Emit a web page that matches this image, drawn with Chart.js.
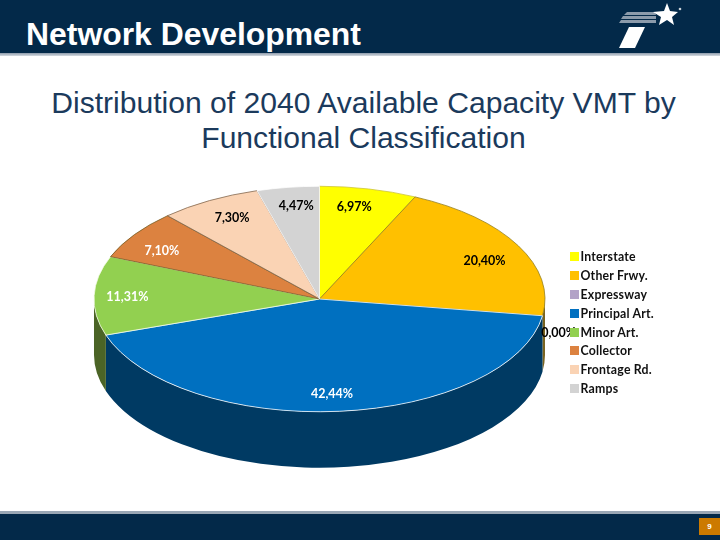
<!DOCTYPE html>
<html>
<head>
<meta charset="utf-8">
<script src="https://cdn.jsdelivr.net/npm/chart.js@4"></script>
<style>
html, body { margin: 0; padding: 0; background: #fff; }
#slide { position: relative; width: 720px; height: 540px; overflow: hidden; font-family: "Liberation Sans", Arial, sans-serif; }
#top { position: absolute; left: 0; top: 0; width: 720px; height: 53px; background: #032949; }
#topline { position: absolute; left: 0; top: 53px; width: 720px; height: 3px; background: linear-gradient(#8d9bab, #d5dae0); }
#head { position: absolute; left: 26px; top: 16px; font-size: 31.9px; line-height: 36px; font-weight: bold; color: #fff; white-space: nowrap; }
#title { position: absolute; left: 0; top: 85px; width: 727px; text-align: center; font-size: 30.1px; line-height: 35px; color: #1b3a5c; white-space: nowrap; }
#logo { position: absolute; left: 600px; top: 0; }
#bottom { position: absolute; left: 0; top: 514px; width: 720px; height: 26px; background: #032949; }
#bottomline { position: absolute; left: 0; top: 511px; width: 720px; height: 3px; background: #9aa7b5; }
#page { position: absolute; left: 699px; top: 518px; width: 21px; height: 17px; background: #cc7a00; color: #fff; font-size: 8px; font-weight: bold; line-height: 17px; text-align: center; }
canvas { position: absolute; left: 0; top: 0; }
#legend { position: absolute; left: 570px; top: 248px; font: 700 12.3px Lato; letter-spacing: 0.2px; color: #111; }
#legend div { height: 18.9px; line-height: 18.9px; white-space: nowrap; }
#legend i { display: inline-block; width: 9px; height: 9px; margin-right: 1.5px; }
</style>
</head>
<body>
<div id="slide">
  <div id="top"></div>
  <div id="topline"></div>
  <div id="head">Network Development</div>
  <svg id="logo" width="120" height="53">
    <polygon points="27,12 55,12 56,15 24,15" fill="#8c9bab"/>
    <polygon points="23,16 56,16 56,19 21,19" fill="#8c9bab"/>
    <polygon points="21,20 56,20 56,23 19,23" fill="#8c9bab"/>
    <polygon points="29,27 45,27 35,48 19,48" fill="#fff"/>
    <polygon points="67,3 70,11 78,12 72,17 74,25 67,20 59,25 61,17 53,12 64,11" fill="#fff"/>
    <circle cx="80" cy="9" r="1.3" fill="#c8d0d8"/>
  </svg>
  <div id="title">Distribution of 2040 Available Capacity VMT by<br>Functional Classification</div>
  <div id="bottomline"></div>
  <div id="bottom"></div>
  <div id="page">9</div>
  <canvas id="MainChart" width="720" height="540"></canvas>
  <div id="legend"></div>
</div>
<script>
var categories = ['Interstate', 'Other Frwy.', 'Expressway', 'Principal Art.', 'Minor Art.', 'Collector', 'Frontage Rd.', 'Ramps'];
var shares = [6.97, 20.40, 0.00, 42.44, 11.31, 7.10, 7.30, 4.47];

var topColors = ['#ffff00', '#ffc000', '#b2a2c7', '#0070c0', '#92d050', '#dc8240', '#fad3b4', '#d3d3d3'];
var edgeColors = ['#c9c030', '#8f7a18', '#b2a2c7', '#ffffff', '#f4fbe8', '#6e5a20', '#7a5f45', '#ffffff'];
var sideColors = ['#7f7f00', '#7a6420', '#595163', '#003a63', '#4b6426', '#6e4120', '#7d695a', '#696969'];
var labelColors = ['#000', '#000', '#000', '#fff', '#fff', '#fff', '#000', '#000'];
// small hand nudges of the labels, px
var labelShiftX = [-6, 0, 5, -4, -5, -4, 4, 3];
var labelShiftY = [-1, 6, 1, 2, 1, 5, 1, 0];

var tilt = 0.5;      // flattening of the pie
var depth = 56;      // height of the side wall, px on screen
var labelFont = '700 12.5px Lato';

function pieMeta(chart) {
    return chart.getDatasetMeta(0).data;
}

var tiltedPie = {
    id: 'tiltedPie',
    afterUpdate: function (chart) {
        // html legend so the boxes sit on top of the 0,00% label
        var box = document.getElementById('legend');
        box.innerHTML = '';
        chart.options.plugins.legend.labels.generateLabels(chart).forEach(function (item) {
            var row = document.createElement('div');
            var swatch = document.createElement('i');
            swatch.style.background = item.fillStyle;
            row.appendChild(swatch);
            row.appendChild(document.createTextNode(item.text));
            box.appendChild(row);
        });
    },
    beforeDatasetsDraw: function (chart) {
        var ctx = chart.ctx;
        var arcs = pieMeta(chart);
        var cy = arcs[0].y;
        ctx.save();
        ctx.translate(0, cy);
        ctx.scale(1, tilt);
        ctx.translate(0, -cy);
        // front wall: only the part of each slice between 0 and PI shows
        arcs.forEach(function (arc, i) {
            var from = Math.max(arc.startAngle, 0);
            var to = Math.min(arc.endAngle, Math.PI);
            if (to <= from || shares[i] === 0) return;
            var down = depth / tilt;
            ctx.beginPath();
            ctx.arc(arc.x, arc.y, arc.outerRadius, from, to);
            ctx.arc(arc.x, arc.y + down, arc.outerRadius, to, from, true);
            ctx.closePath();
            ctx.fillStyle = sideColors[i];
            ctx.fill();
        });
    },
    afterDatasetsDraw: function (chart) {
        var ctx = chart.ctx;
        ctx.restore();
        ctx.save();
        ctx.font = labelFont;
        ctx.textAlign = 'center';
        ctx.textBaseline = 'middle';
        pieMeta(chart).forEach(function (arc, i) {
            var mid = (arc.startAngle + arc.endAngle) / 2;
            var r = shares[i] === 0 ? arc.outerRadius * 1.05 : arc.outerRadius * 0.83;
            var x = arc.x + r * Math.cos(mid) + labelShiftX[i];
            var y = arc.y + r * Math.sin(mid) * tilt + labelShiftY[i] + (shares[i] === 0 ? 15 : 0);
            ctx.fillStyle = labelColors[i];
            ctx.fillText(shares[i].toFixed(2).replace('.', ',') + '%', x, y);
        });
        ctx.restore();
    }
};

new Chart(document.getElementById('MainChart').getContext('2d'), {
    type: 'pie',
    data: {
        labels: categories,
        datasets: [{
            data: shares,
            backgroundColor: topColors,
            borderColor: edgeColors,
            borderWidth: 1
        }]
    },
    options: {
        responsive: false,
        animation: false,
        layout: { padding: { left: 93.5, top: 73, right: 174.5, bottom: 15 } },
        plugins: {
            tooltip: { enabled: false },
            legend: { display: false }
        }
    },
    plugins: [tiltedPie]
});
</script>
</body>
</html>
